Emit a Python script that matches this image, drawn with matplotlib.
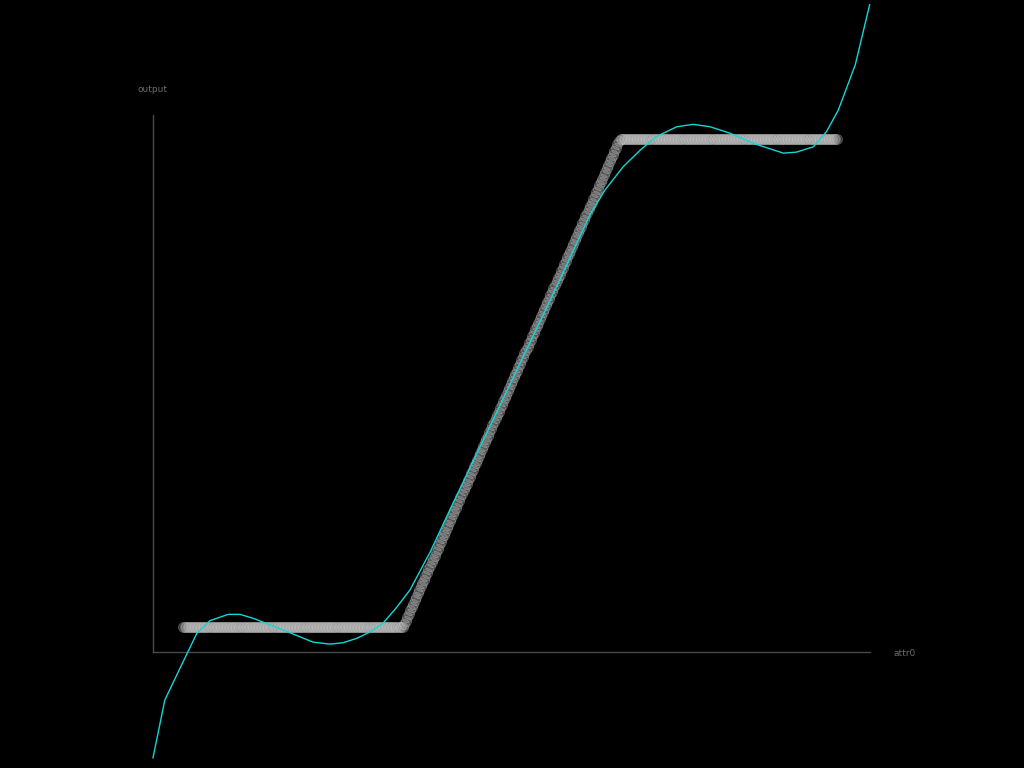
import matplotlib
matplotlib.use("Agg")
import matplotlib.pyplot as plt
import numpy as np

n_points = 430
attr0_knots = [0.0, 0.336, 0.668, 1.0]
output_knots = [0.0, 0.0, 1.0, 1.0]

# fitted regression curve
curve_x = [-0.046, -0.028, -0.006, 0.021, 0.041, 0.069, 0.087, 0.107,
           0.153, 0.199, 0.225, 0.245, 0.266, 0.286, 0.306, 0.327, 0.347, 0.378,
           0.408, 0.485, 0.576, 0.622, 0.645, 0.673, 0.699, 0.724, 0.755, 0.780,
           0.806, 0.836, 0.872, 0.918, 0.938, 0.964, 0.984, 1.002, 1.028, 1.050]
curve_y = [-0.268, -0.150, -0.088, -0.013, 0.013, 0.026, 0.026, 0.018,
           -0.006, -0.031, -0.035, -0.032, -0.023, -0.010, 0.008, 0.041, 0.076, 0.154,
           0.240, 0.455, 0.711, 0.844, 0.895, 0.943, 0.977, 1.005, 1.025, 1.030,
           1.025, 1.012, 0.991, 0.971, 0.973, 0.984, 1.015, 1.059, 1.152, 1.275]

x_label = "attr0"
y_label = "output"

attr0 = np.linspace(attr0_knots[0], attr0_knots[-1], n_points)
output = np.interp(attr0, attr0_knots, output_knots)

fig = plt.figure(figsize=(10.24, 7.68), dpi=100, facecolor="black")
ax = fig.add_axes([0.1494, 0.151, 0.7002, 0.6992], facecolor="black")

ax.scatter(attr0, output, s=52, facecolor="#b8b8b8", edgecolor="#dcdcdc",
           linewidth=0.7, alpha=0.28, zorder=2)
ax.plot(curve_x, curve_y, color="#14d6d6", linewidth=1.0, clip_on=False, zorder=3)

ax.set_xlim(-0.046, 1.0505)
ax.set_ylim(-0.0512, 1.049)

for side in ["top", "right"]:
    ax.spines[side].set_visible(False)
for side in ["left", "bottom"]:
    ax.spines[side].set_color("#4a4a4a")
    ax.spines[side].set_linewidth(1.0)
ax.set_xticks([])
ax.set_yticks([])

fig.text(153 / 1024, 1 - 90 / 768, y_label, color="#6a6a6a", fontsize=6.5,
         ha="center", va="center")
fig.text(905 / 1024, 1 - 654 / 768, x_label, color="#6a6a6a", fontsize=6.5,
         ha="center", va="center")

fig.savefig("out.png", dpi=100, facecolor="black")
